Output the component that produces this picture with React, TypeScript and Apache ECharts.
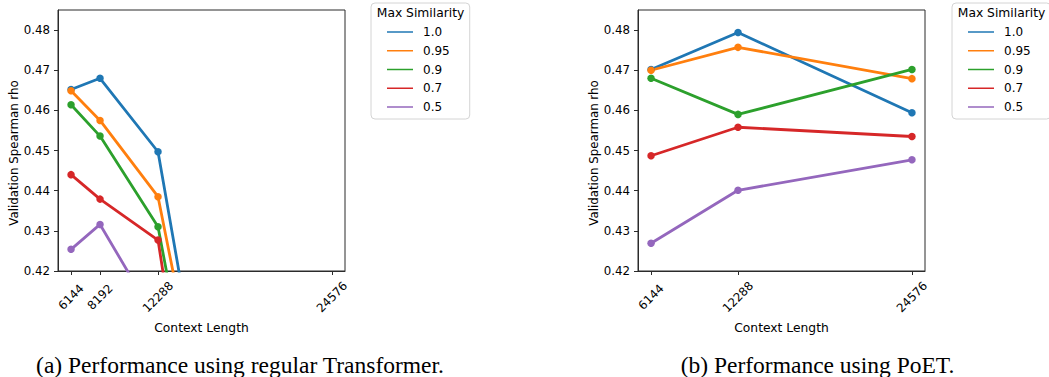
import React, { useEffect, useRef } from "react";
import * as echarts from "echarts";

// Legend entries ("Max Similarity") and their tab10 colours
const similarityNames = ["1.0", "0.95", "0.9", "0.7", "0.5"];
const similarityColors = ["#1f77b4", "#ff7f0e", "#2ca02c", "#d62728", "#9467bd"];

// (a) regular Transformer
const transformerLengths = [6144, 8192, 12288, 24576];
const transformerRho10 = [0.4652, 0.468, 0.4497, 0.202];
const transformerRho095 = [0.4649, 0.4575, 0.4385, 0.222];
const transformerRho09 = [0.4614, 0.4536, 0.431, 0.203];
const transformerRho07 = [0.444, 0.4379, 0.4277, 0.15];
const transformerRho05 = [0.4254, 0.4316, 0.4071, 0.18];

// (b) PoET
const poetLengths = [6144, 12288, 24576];
const poetRho10 = [0.4702, 0.4794, 0.4594];
const poetRho095 = [0.47, 0.4757, 0.4679];
const poetRho09 = [0.468, 0.459, 0.4702];
const poetRho07 = [0.4487, 0.4558, 0.4535];
const poetRho05 = [0.4269, 0.4401, 0.4477];

const yTicks = [0.42, 0.43, 0.44, 0.45, 0.46, 0.47, 0.48];
const yMin = 0.42;
const yMax = 0.485;

const captions = ["(a) Performance using regular Transformer.", "(b) Performance using PoET."];

const FONT = "DejaVu Sans";
const SPINE = "#2b2b2b";

function pairs(xs: number[], ys: number[]) {
  return xs.map((x, i) => [x, ys[i]]);
}

function xExtent(xs: number[]) {
  const lo = Math.min(...xs);
  const hi = Math.max(...xs);
  const pad = (hi - lo) * 0.05;
  return [lo - pad, hi + pad];
}

function makeXAxis(gridIndex: number, ticks: number[]) {
  const [min, max] = xExtent(ticks);
  return {
    type: "value",
    gridIndex,
    min,
    max,
    name: "Context Length",
    nameLocation: "middle",
    nameGap: 45,
    nameTextStyle: { fontFamily: FONT, fontSize: 12.3, color: "#000" },
    axisLine: { show: true, onZero: false, lineStyle: { color: SPINE, width: 1 } },
    axisTick: { show: true, length: 4, customValues: ticks, lineStyle: { color: SPINE, width: 1 } },
    axisLabel: {
      customValues: ticks,
      rotate: 45,
      align: "center",
      verticalAlign: "middle",
      margin: 26,
      fontFamily: FONT,
      fontSize: 11.8,
      color: "#000",
      formatter: (v: number) => String(Math.round(v)),
    },
    splitLine: { show: false },
  };
}

function makeYAxis(gridIndex: number) {
  return {
    type: "value",
    gridIndex,
    min: yMin,
    max: yMax,
    name: "Validation Spearman rho",
    nameLocation: "middle",
    nameRotate: 90,
    nameGap: 38,
    nameTextStyle: { fontFamily: FONT, fontSize: 11.8, color: "#000", padding: [0, 25, 0, 0] },
    axisLine: { show: true, lineStyle: { color: SPINE, width: 1 } },
    axisTick: { show: true, length: 4, customValues: yTicks, lineStyle: { color: SPINE, width: 1 } },
    axisLabel: {
      customValues: yTicks,
      margin: 8,
      fontFamily: FONT,
      fontSize: 11.8,
      color: "#000",
      formatter: (v: number) => v.toFixed(2),
    },
    splitLine: { show: false },
  };
}

function makeSeries(axisIndex: number, xs: number[], values: number[][]) {
  return values.map((ys, i) => ({
    type: "line",
    name: similarityNames[i],
    xAxisIndex: axisIndex,
    yAxisIndex: axisIndex,
    data: pairs(xs, ys),
    symbol: "circle",
    symbolSize: 7.5,
    showSymbol: true,
    clip: true,
    color: similarityColors[i],
    lineStyle: { width: 2.8, color: similarityColors[i] },
    itemStyle: { color: similarityColors[i] },
    emphasis: { disabled: true },
  }));
}

function makeLegend(left: number) {
  return {
    data: similarityNames,
    left,
    top: 3,
    orient: "vertical",
    icon: "rect",
    itemWidth: 26,
    itemHeight: 1.5,
    itemGap: 4.75,
    padding: [22, 20, 5, 16],
    borderColor: "#d4d4d4",
    borderWidth: 1,
    borderRadius: 4,
    backgroundColor: "#fff",
    selectedMode: false,
    textStyle: { fontFamily: FONT, fontSize: 12, color: "#000", lineHeight: 14, padding: [0, 0, 0, 5] },
  };
}

export default function App() {
  const ref = useRef<HTMLDivElement>(null);

  useEffect(() => {
    if (!ref.current) return;
    const chart = echarts.init(ref.current, undefined, { renderer: "svg" });

    const grids = [
      { left: 58, top: 10, width: 287, height: 261 },
      { left: 638, top: 10, width: 287, height: 261 },
    ];

    const option = {
      animation: false,
      backgroundColor: "#fff",
      grid: grids.map((g) => ({ ...g, show: true, borderColor: SPINE, borderWidth: 1, backgroundColor: "#fff" })),
      xAxis: [makeXAxis(0, transformerLengths), makeXAxis(1, poetLengths)],
      yAxis: [makeYAxis(0), makeYAxis(1)],
      legend: [makeLegend(371), makeLegend(952)],
      series: [
        ...makeSeries(0, transformerLengths, [
          transformerRho10,
          transformerRho095,
          transformerRho09,
          transformerRho07,
          transformerRho05,
        ]),
        ...makeSeries(1, poetLengths, [poetRho10, poetRho095, poetRho09, poetRho07, poetRho05]),
      ],
      graphic: [
        {
          type: "text",
          x: 420.5,
          y: 13,
          style: { text: "Max Similarity", fontFamily: FONT, fontSize: 12.3, fill: "#000", align: "center", verticalAlign: "middle" },
          z: 100,
        },
        {
          type: "text",
          x: 1001.5,
          y: 13,
          style: { text: "Max Similarity", fontFamily: FONT, fontSize: 12.3, fill: "#000", align: "center", verticalAlign: "middle" },
          z: 100,
        },
        {
          type: "text",
          x: 240,
          y: 365,
          style: { text: captions[0], fontFamily: "Liberation Serif", fontSize: 23.5, fill: "#000", align: "center", verticalAlign: "middle" },
        },
        {
          type: "text",
          x: 817.5,
          y: 365,
          style: { text: captions[1], fontFamily: "Liberation Serif", fontSize: 23.5, fill: "#000", align: "center", verticalAlign: "middle" },
        },
      ],
    };

    chart.setOption(option as any);
    return () => chart.dispose();
  }, []);

  return (
    <div
      ref={ref}
      style={{ position: "absolute", left: 0, top: 0, width: 1049, height: 377, background: "#fff" }}
    />
  );
}
